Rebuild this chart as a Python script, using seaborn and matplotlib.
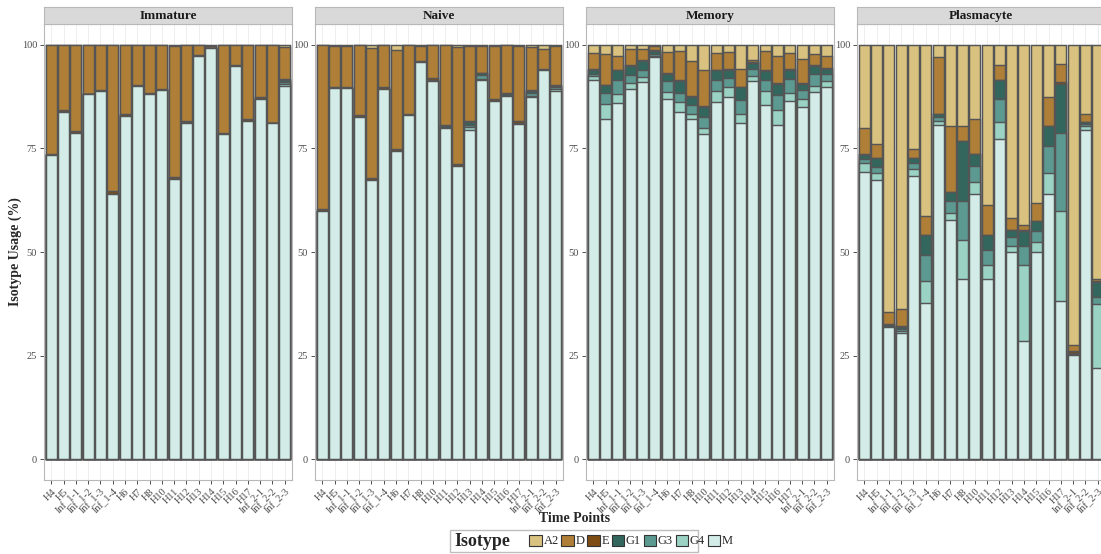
import numpy as np
import pandas as pd
import matplotlib
matplotlib.use("Agg")
import matplotlib.pyplot as plt
import seaborn as sns
from matplotlib.patches import Patch, Rectangle

# ---------------- data ----------------
time_points = ["H4", "H5", "Inf_1-1", "Inf_1-2", "Inf_1-3", "Inf_1-4", "H6", "H7", "H8",
               "H10", "H11", "H12", "H13", "H14", "H15", "H16", "H17",
               "Inf_2-1", "Inf_2-2", "Inf_2-3"]
isotypes = ["A2", "D", "E", "G1", "G3", "G4", "M"]          # legend order (top of stack first)
iso_colors = ["#D9C17F", "#B07F37", "#7E4D14", "#33665D", "#5C9A91", "#9AD2C4", "#D3ECE7"]
panels = ["Immature", "Naive", "Memory", "Plasmacyte"]

immature = {
    "A2": [0, 0, 0, 0, 0, 0, 0, 0, 0, 0, 0.3, 0, 0, 0.2, 0, 0, 0, 0, 0, 0.5],
    "D":  [26.3, 15.8, 20.9, 11.8, 11.0, 35.4, 16.8, 9.8, 11.7, 10.8, 31.6, 18.3, 2.5, 0.6, 21.3, 5.0, 17.9, 12.6, 18.8, 7.7],
    "E":  [0.4, 0.4, 0.5, 0.2, 0.2, 0.6, 0.4, 0.2, 0.3, 0.2, 0.4, 0.4, 0.3, 0, 0.3, 0.2, 0.4, 0.4, 0.2, 0.2],
    "G1": [0, 0, 0, 0, 0, 0, 0, 0, 0, 0, 0, 0.3, 0, 0, 0, 0, 0, 0, 0, 0.5],
    "G3": [0, 0, 0, 0, 0, 0, 0, 0, 0, 0, 0, 0, 0, 0, 0, 0, 0, 0, 0, 0.5],
    "G4": [0, 0, 0, 0, 0, 0, 0, 0, 0, 0, 0, 0, 0, 0, 0, 0, 0, 0, 0, 0.6],
    "M":  [73.3, 83.8, 78.6, 88.0, 88.8, 64.0, 82.8, 90.0, 88.0, 89.0, 67.7, 81.0, 97.2, 99.2, 78.4, 94.8, 81.7, 87.0, 81.0, 90.0],
}
naive = {
    "A2": [0, 0.4, 0.2, 0, 0.8, 0, 1.2, 0, 0.4, 0, 0, 0.6, 0.2, 0.2, 0.2, 0, 0.2, 0.6, 1.1, 0.4],
    "D":  [39.6, 9.9, 10.0, 17.0, 31.4, 10.3, 24.0, 16.6, 3.5, 8.1, 19.4, 28.1, 18.3, 6.6, 13.0, 11.6, 18.3, 10.3, 4.7, 9.4],
    "E":  [0.4, 0.2, 0.2, 0.5, 0.5, 0.4, 0.4, 0.4, 0.3, 0.3, 0.2, 0.5, 0.2, 0, 0.3, 0.3, 0.3, 0.2, 0.4, 0.2],
    "G1": [0, 0, 0, 0, 0, 0, 0, 0, 0, 0.4, 0.4, 0, 0.6, 0.6, 0, 0.4, 0.3, 0.6, 0, 0.3],
    "G3": [0, 0, 0, 0, 0, 0, 0, 0, 0, 0, 0.2, 0, 0.6, 0.8, 0, 0, 0, 0.6, 0, 0.5],
    "G4": [0, 0, 0, 0, 0, 0, 0, 0, 0, 0, 0, 0, 0.6, 0.4, 0, 0, 0, 0.4, 0, 0.4],
    "M":  [60.0, 89.5, 89.6, 82.5, 67.3, 89.3, 74.4, 83.0, 95.8, 91.2, 79.8, 70.8, 79.5, 91.4, 86.5, 87.7, 80.9, 87.3, 93.8, 88.8],
}
memory = {
    "A2": [1.9, 2.2, 2.6, 1.1, 1.1, 0.4, 1.8, 1.6, 4.0, 6.2, 2.0, 1.8, 5.9, 3.6, 1.6, 2.6, 2.0, 3.5, 2.2, 2.6],
    "D":  [3.9, 7.4, 3.4, 3.9, 2.7, 0.8, 5.0, 7.0, 8.4, 8.7, 4.0, 4.0, 4.2, 0.6, 4.6, 6.6, 3.8, 5.7, 2.7, 3.0],
    "E":  [0.2, 0.2, 0.2, 0.2, 0.2, 0.2, 0.2, 0.2, 0.2, 0.2, 0.2, 0.2, 0.2, 0.2, 0.2, 0.2, 0.2, 0.2, 0.2, 0.2],
    "G1": [1.0, 1.8, 2.4, 2.2, 2.2, 0.8, 1.8, 2.8, 2.0, 2.4, 2.4, 2.0, 3.1, 1.4, 2.0, 2.8, 2.3, 1.6, 2.0, 1.3],
    "G3": [0.6, 2.6, 3.4, 1.8, 1.6, 0.5, 2.6, 2.2, 2.0, 2.5, 2.5, 2.3, 3.4, 1.8, 2.7, 3.6, 3.3, 2.0, 2.8, 1.7],
    "G4": [1.0, 3.6, 2.0, 1.4, 1.2, 0.3, 1.6, 2.4, 1.4, 1.6, 2.7, 2.3, 2.2, 1.2, 3.5, 3.6, 1.9, 2.0, 1.6, 1.4],
    "M":  [91.4, 82.2, 86.0, 89.4, 91.0, 97.0, 87.0, 83.8, 82.0, 78.4, 86.2, 87.4, 81.0, 91.2, 85.4, 80.6, 86.5, 85.0, 88.5, 89.8],
}
plasmacyte = {
    "A2": [20.0, 24.0, 64.5, 63.7, 25.2, 41.4, 3.0, 19.6, 19.6, 17.8, 38.6, 4.8, 41.8, 43.6, 38.2, 12.6, 4.6, 72.5, 16.6, 56.4],
    "D":  [6.4, 3.4, 2.8, 4.1, 2.2, 4.6, 13.6, 16.0, 3.6, 8.6, 7.2, 3.6, 2.8, 1.0, 4.4, 7.0, 4.5, 1.4, 2.0, 0.6],
    "E":  [0.2, 0, 0.4, 0.3, 0, 0, 0, 0, 0, 0, 0, 0, 0, 0.3, 0, 0, 0.3, 0.4, 0, 0.2],
    "G1": [1.0, 2.0, 0.5, 0.5, 1.2, 4.8, 0.9, 2.2, 14.4, 2.8, 3.8, 4.8, 1.9, 3.7, 2.3, 4.8, 11.8, 0.3, 0.6, 3.6],
    "G3": [1.0, 1.6, 0, 0.5, 1.4, 6.2, 0.9, 2.7, 9.4, 3.8, 3.6, 5.4, 2.1, 4.6, 2.7, 6.6, 18.8, 0.2, 0.4, 1.8],
    "G4": [2.2, 1.6, 0, 0.4, 1.6, 5.2, 1.0, 1.7, 9.5, 3.1, 3.3, 4.2, 1.5, 18.3, 2.4, 5.1, 21.8, 0, 1.0, 15.4],
    "M":  [69.2, 67.4, 31.8, 30.5, 68.4, 37.8, 80.6, 57.8, 43.5, 63.9, 43.5, 77.2, 49.9, 28.5, 50.0, 63.9, 38.2, 25.2, 79.4, 22.0],
}
panel_data = [immature, naive, memory, plasmacyte]

# ---------------- tidy frame with stacked tops ----------------
stack_order = ["M", "G4", "G3", "G1", "E", "D", "A2"]  # bottom -> top
rows = []
for pname, pdata in zip(panels, panel_data):
    cum = np.zeros(len(time_points))
    for iso in stack_order:
        vals = np.array(pdata[iso], dtype=float)
        cum = cum + vals
        for t, v, top in zip(time_points, vals, cum):
            rows.append(dict(panel=pname, time=t, isotype=iso, value=v, top=top))
df = pd.DataFrame(rows)

# ---------------- style ----------------
sns.set_style("white")
plt.rcParams["font.family"] = ["Liberation Serif", "DejaVu Serif"]

W, H = 1101, 554
fig = plt.figure(figsize=(W / 100, H / 100), dpi=100)

panel_left0 = 44
panel_step = 271
panel_w = 248
top_px, bot_px = 24, 480
strip_top = 7

color_map = dict(zip(isotypes, iso_colors))

for i, pname in enumerate(panels):
    lpx = panel_left0 + i * panel_step
    ax = fig.add_axes([lpx / W, (H - bot_px) / H, panel_w / W, (bot_px - top_px) / H])
    ax.set_axisbelow(True)
    sub_p = df[df.panel == pname]
    for iso in isotypes:  # top segment first, lower ones drawn over
        sub = sub_p[sub_p.isotype == iso]
        sns.barplot(data=sub, x="time", y="top", order=time_points,
                    color=color_map[iso], saturation=1, width=0.9,
                    edgecolor="#555555", linewidth=1.05, errorbar=None, ax=ax)
    ax.set_xlim(-0.6, len(time_points) - 0.4)
    ax.set_ylim(-5, 105)
    ax.set_xlabel("")
    ax.set_ylabel("")
    ax.set_yticks([0, 25, 50, 75, 100])
    ax.set_yticklabels(["0", "25", "50", "75", "100"])
    ax.set_xticks(range(len(time_points)))
    ax.set_xticklabels(time_points, rotation=45, ha="right", rotation_mode="anchor")
    ax.grid(True, color="#EBEBEB", linewidth=0.6)
    ax.tick_params(axis="both", which="major", length=3, width=0.6, color="#333333",
                   labelcolor="#4D4D4D", labelsize=7.5, pad=2, bottom=True, left=True)
    for s in ax.spines.values():
        s.set_color("#B8B8B8")
        s.set_linewidth(0.8)

    sax = fig.add_axes([lpx / W, (H - top_px) / H, panel_w / W, (top_px - strip_top) / H])
    sax.set_facecolor("#D9D9D9")
    sax.set_xticks([])
    sax.set_yticks([])
    for s in sax.spines.values():
        s.set_color("#B8B8B8")
        s.set_linewidth(0.8)
    sax.text(0.5, 0.45, pname, ha="center", va="center", fontsize=9.5,
             fontweight="bold", color="#1A1A1A", transform=sax.transAxes)

fig.text(15.5 / W, 1 - 252 / H, "Isotype Usage (%)", rotation=90, ha="center", va="center",
         fontsize=10, fontweight="bold")
fig.text(575 / W, 1 - 519 / H, "Time Points", ha="center", va="center",
         fontsize=10, fontweight="bold")

# legend
fig.patches.append(Rectangle((450 / W, 1 - 552 / H), (698 - 450) / W, 22 / H,
                             transform=fig.transFigure, fill=False,
                             edgecolor="#BDBDBD", linewidth=1.0))
fig.text(454 / W, 1 - 541 / H, "Isotype", ha="left", va="center",
         fontsize=13, fontweight="bold")
handles = [Patch(facecolor=c, edgecolor="#333333", linewidth=0.8) for c in iso_colors]
fig.legend(handles, isotypes, loc="center left", bbox_to_anchor=(529 / W, 1 - 541 / H),
           ncol=7, frameon=False, handlelength=1.0, handleheight=1.0,
           handletextpad=0.15, columnspacing=0.2, borderpad=0, borderaxespad=0,
           fontsize=9)

fig.savefig("out.png", dpi=100)
